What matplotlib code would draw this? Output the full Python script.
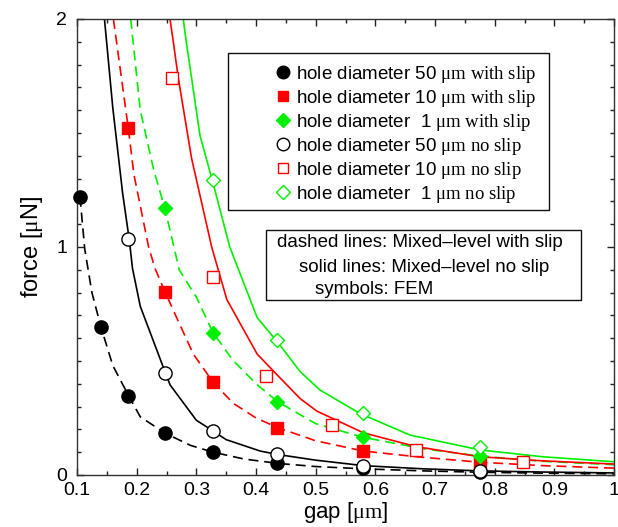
import numpy as np
import matplotlib
matplotlib.use("Agg")
import matplotlib.pyplot as plt
from matplotlib.patches import Rectangle
from matplotlib.ticker import MultipleLocator, FixedLocator, FixedFormatter

plt.rcParams['font.family'] = ['Liberation Sans', 'DejaVu Sans']
plt.rcParams['mathtext.fontset'] = 'custom'
plt.rcParams['mathtext.rm'] = 'Liberation Serif'
plt.rcParams['mathtext.it'] = 'Liberation Serif:italic'

# MODELO MIXED-LEVEL (lineas)
# con slip (discontinuas)
gap_slip50 = [0.105, 0.113, 0.125, 0.14, 0.16, 0.186, 0.206, 0.248, 0.29, 0.328, 0.38, 0.436, 0.5, 0.58, 0.68, 0.775, 0.88, 1.0]
f_slip50 = [1.22, 0.99, 0.80, 0.65, 0.48, 0.35, 0.255, 0.183, 0.13, 0.10, 0.07, 0.051, 0.037, 0.027, 0.018, 0.012, 0.008, 0.005]

gap_slip10 = [0.161, 0.186, 0.1955, 0.22, 0.2307, 0.248, 0.267, 0.295, 0.328, 0.362, 0.40, 0.436, 0.5, 0.58, 0.669, 0.775, 0.88, 1.0]
f_slip10 = [2.0, 1.52, 1.316, 1.0, 0.906, 0.80, 0.69, 0.53, 0.407, 0.314, 0.25, 0.208, 0.15, 0.105, 0.08, 0.056, 0.041, 0.03]

gap_slip1 = [0.19, 0.206, 0.2285, 0.2475, 0.2714, 0.30, 0.328, 0.361, 0.40, 0.436, 0.5, 0.58, 0.68, 0.775, 0.88, 1.0]
f_slip1 = [2.0, 1.60, 1.338, 1.167, 0.899, 0.78, 0.624, 0.504, 0.40, 0.322, 0.225, 0.165, 0.115, 0.083, 0.06, 0.045]

# sin slip (continuas)
gap_noslip50 = [0.146, 0.16, 0.1765, 0.1877, 0.193, 0.206, 0.248, 0.256, 0.30, 0.328, 0.35, 0.407, 0.436, 0.5, 0.58, 0.68, 0.775, 0.88, 1.0]
f_noslip50 = [2.0, 1.61, 1.235, 1.03, 0.906, 0.74, 0.449, 0.395, 0.24, 0.193, 0.155, 0.105, 0.09, 0.065, 0.041, 0.027, 0.018, 0.013, 0.009]

gap_noslip10 = [0.2558, 0.2614, 0.2698, 0.292, 0.3257, 0.351, 0.402, 0.435, 0.474, 0.502, 0.58, 0.669, 0.775, 0.88, 1.0]
f_noslip10 = [2.0, 1.90, 1.74, 1.389, 1.0, 0.77, 0.53, 0.44, 0.335, 0.28, 0.185, 0.124, 0.08, 0.062, 0.048]

gap_noslip1 = [0.278, 0.2827, 0.306, 0.328, 0.356, 0.402, 0.437, 0.474, 0.507, 0.574, 0.658, 0.775, 0.88, 1.0]
f_noslip1 = [2.0, 1.908, 1.49, 1.28, 1.0, 0.69, 0.58, 0.453, 0.373, 0.27, 0.175, 0.11, 0.08, 0.058]

# FEM (simbolos)
gap_fem = [0.105, 0.14, 0.186, 0.248, 0.328, 0.436, 0.58, 0.775]
fem_slip50 = [1.22, 0.648, 0.348, 0.183, 0.10, 0.051, 0.03, 0.012]
fem_noslip50 = [np.nan, np.nan, 1.034, 0.449, 0.193, 0.092, 0.041, 0.018]
fem_slip10 = [np.nan, np.nan, 1.523, 0.804, 0.407, 0.208, 0.105, 0.058]
fem_slip1 = [np.nan, np.nan, np.nan, 1.17, 0.624, 0.322, 0.165, 0.083]
fem_noslip1 = [np.nan, np.nan, np.nan, np.nan, 1.294, 0.592, 0.27, 0.124]

gap_fem10 = [0.26, 0.328, 0.417, 0.528, 0.668, 0.847]
fem_noslip10 = [1.74, 0.867, 0.434, 0.219, 0.11, 0.058]

xticks = [0.1, 0.2, 0.3, 0.4, 0.5, 0.6, 0.7, 0.8, 0.9, 1.0]
xticklabels = ['0.1', '0.2', '0.3', '0.4', '0.5', '0.6', '0.7', '0.8', '0.9', '1']
yticks = [0, 1, 2]
yticklabels = ['0', '1', '2']

legend_labels = [
    r'hole diameter 50 $\mathrm{\mu m\ with\ slip}$',
    r'hole diameter 10 $\mathrm{\mu m\ with\ slip}$',
    r'hole diameter  1 $\mathrm{\mu m\ with\ slip}$',
    r'hole diameter 50 $\mathrm{\mu m\ no\ slip}$',
    r'hole diameter 10 $\mathrm{\mu m\ no\ slip}$',
    r'hole diameter  1 $\mathrm{\mu m\ no\ slip}$',
]
note_lines = ['dashed lines: Mixed\u2013level with slip',
              'solid lines: Mixed\u2013level no slip',
              'symbols: FEM']

RED = '#ff0000'
GREEN = '#00f000'

fig = plt.figure(figsize=(6.18, 5.27), dpi=100)
ax = fig.add_axes([0.1246, 0.0987, 0.869, 0.8653])

lw = 1.2
dash = (0, (6, 3.5))
ax.plot(gap_slip50, f_slip50, color='k', lw=lw, ls=dash)
ax.plot(gap_slip10, f_slip10, color=RED, lw=lw, ls=dash)
ax.plot(gap_slip1, f_slip1, color=GREEN, lw=lw, ls=dash)
ax.plot(gap_noslip50, f_noslip50, color='k', lw=lw)
ax.plot(gap_noslip10, f_noslip10, color=RED, lw=lw)
ax.plot(gap_noslip1, f_noslip1, color=GREEN, lw=lw)

mk = dict(ls='none', clip_on=False, zorder=5, mew=1.0)
h1, = ax.plot(gap_fem, fem_slip50, marker='o', ms=9.5, mfc='k', mec='k', **mk)
h2, = ax.plot(gap_fem, fem_slip10, marker='s', ms=8, mfc=RED, mec=RED, **mk)
h3, = ax.plot(gap_fem, fem_slip1, marker='D', ms=7.5, mfc=GREEN, mec=GREEN, **mk)
h4, = ax.plot(gap_fem, fem_noslip50, marker='o', ms=9.5, mfc='white', mec='k', **mk)
h5, = ax.plot(gap_fem10, fem_noslip10, marker='s', ms=8, mfc='white', mec=RED, **mk)
h6, = ax.plot(gap_fem, fem_noslip1, marker='D', ms=7.5, mfc='white', mec=GREEN, **mk)

ax.set_xlim(0.1, 1.0)
ax.set_ylim(0, 2)
ax.xaxis.set_major_locator(FixedLocator(xticks))
ax.xaxis.set_major_formatter(FixedFormatter(xticklabels))
ax.xaxis.set_minor_locator(MultipleLocator(0.05))
ax.yaxis.set_major_locator(FixedLocator(yticks))
ax.yaxis.set_major_formatter(FixedFormatter(yticklabels))
ax.yaxis.set_minor_locator(MultipleLocator(0.1))
ax.tick_params(which='both', direction='in', top=True, right=True, width=1.0, labelsize=14, colors='#222222', labelcolor='k')
ax.tick_params(which='major', length=5)
ax.tick_params(axis='x', which='major', pad=5)
ax.tick_params(axis='y', which='major', pad=7)
ax.tick_params(which='minor', length=3)
for s in ax.spines.values():
    s.set_linewidth(1.0)
    s.set_color('#333333')

ax.set_xlabel(r'gap [$\mathrm{\mu m}$]', fontsize=16, labelpad=1)
ax.set_ylabel(r'force [$\mathrm{\mu}$N]', fontsize=17, labelpad=8)

# leyenda (marco aparte)
ax.add_patch(Rectangle((0.281, 0.581), 0.598, 0.344, transform=ax.transAxes,
                       fill=True, fc='white', ec='#111111', lw=1.0, zorder=6))
leg = ax.legend([h1, h2, h3, h4, h5, h6], legend_labels, loc='upper left',
                bbox_to_anchor=(0.366, 0.902), frameon=False, fontsize=13.5,
                borderpad=0, borderaxespad=0, handlelength=1.0, handletextpad=0.2,
                labelspacing=0.16, numpoints=1, markerscale=0.95)
leg.set_zorder(7)

ax.add_patch(Rectangle((0.352, 0.384), 0.5865, 0.153, transform=ax.transAxes,
                       fill=True, fc='white', ec='#111111', lw=1.0, zorder=6))
for txt, xx, yy in zip(note_lines, [0.372, 0.414, 0.443], [0.509, 0.456, 0.406]):
    ax.text(xx, yy, txt, transform=ax.transAxes, fontsize=13.5, va='center', ha='left', zorder=7)

fig.savefig('out.png', dpi=100)
